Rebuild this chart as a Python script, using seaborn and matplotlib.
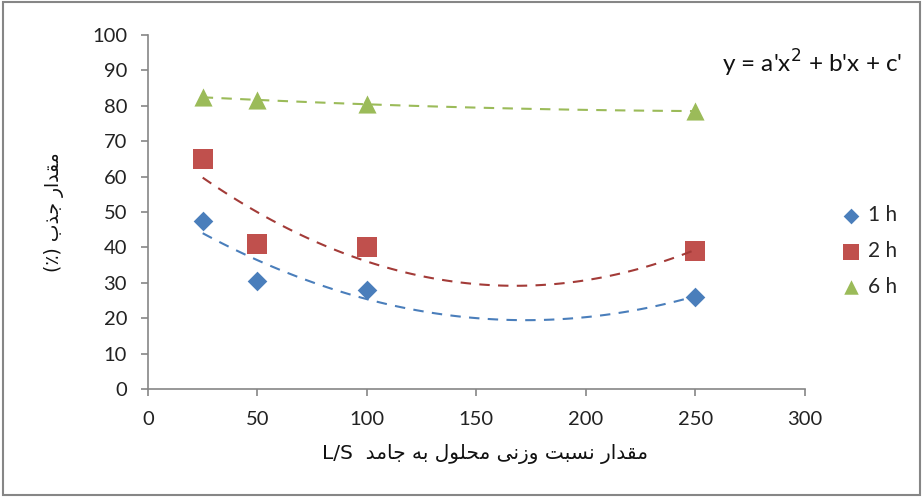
import matplotlib
matplotlib.use("Agg")
import matplotlib.pyplot as plt
import seaborn as sns
import pandas as pd

# data
ls_ratio = [25, 50, 100, 250]
uptake_1h = [47.5, 30.5, 28, 26]
uptake_2h = [65, 41, 40, 39]
uptake_6h = [82.5, 81.5, 80.5, 78.5]
series_names = ["1 h", "2 h", "6 h"]

x_label_fa = "مقدار نسبت وزنی محلول به جامد"
y_label_fa = "مقدار جذب"

# arabic presentation forms: (isolated, final, initial, medial)
FORMS = {
    "ا": ("\uFE8D", "\uFE8E", None, None),
    "ب": ("\uFE8F", "\uFE90", "\uFE91", "\uFE92"),
    "ت": ("\uFE95", "\uFE96", "\uFE97", "\uFE98"),
    "ج": ("\uFE9D", "\uFE9E", "\uFE9F", "\uFEA0"),
    "ح": ("\uFEA1", "\uFEA2", "\uFEA3", "\uFEA4"),
    "د": ("\uFEA9", "\uFEAA", None, None),
    "ذ": ("\uFEAB", "\uFEAC", None, None),
    "ر": ("\uFEAD", "\uFEAE", None, None),
    "ز": ("\uFEAF", "\uFEB0", None, None),
    "س": ("\uFEB1", "\uFEB2", "\uFEB3", "\uFEB4"),
    "ق": ("\uFED5", "\uFED6", "\uFED7", "\uFED8"),
    "ل": ("\uFEDD", "\uFEDE", "\uFEDF", "\uFEE0"),
    "م": ("\uFEE1", "\uFEE2", "\uFEE3", "\uFEE4"),
    "ن": ("\uFEE5", "\uFEE6", "\uFEE7", "\uFEE8"),
    "ه": ("\uFEE9", "\uFEEA", "\uFEEB", "\uFEEC"),
    "و": ("\uFEED", "\uFEEE", None, None),
    "ی": ("\uFBFC", "\uFBFD", "\uFBFE", "\uFBFF"),
}


def shape(text):
    out = []
    for i, ch in enumerate(text):
        if ch not in FORMS:
            out.append(ch)
            continue
        prev = text[i - 1] if i > 0 else " "
        nxt = text[i + 1] if i + 1 < len(text) else " "
        join_prev = prev in FORMS and FORMS[prev][2] is not None
        join_next = FORMS[ch][2] is not None and nxt in FORMS
        iso, fin, ini, med = FORMS[ch]
        if join_prev and join_next:
            out.append(med)
        elif join_prev:
            out.append(fin)
        elif join_next:
            out.append(ini)
        else:
            out.append(iso)
    return "".join(out)[::-1]


df = pd.DataFrame({
    "ls": ls_ratio * 3,
    "value": uptake_1h + uptake_2h + uptake_6h,
    "series": [s for s in series_names for _ in ls_ratio],
})

sns.set_style("white")
plt.rcParams["font.family"] = ["Lato", "DejaVu Sans"]

marker_colors = {"1 h": "#4A7EBB", "2 h": "#C0504D", "6 h": "#9BBB59"}
line_colors = {"1 h": "#4A7EBB", "2 h": "#A33B38", "6 h": "#9BBB59"}
markers = {"1 h": "D", "2 h": "s", "6 h": "^"}
sizes = {"1 h": 100, "2 h": 190, "6 h": 170}

fig = plt.figure(figsize=(9.23, 4.97), dpi=100)
ax = fig.add_axes([0.1603, 0.2173, 0.872 - 0.1603, 0.9296 - 0.2173])

for name in series_names:
    sub = df[df["series"] == name]
    ax.scatter(sub["ls"], sub["value"], marker=markers[name], s=sizes[name],
               color=marker_colors[name], label=name, zorder=2, linewidths=0)
    sns.regplot(data=sub, x="ls", y="value", order=2, ci=None, scatter=False,
                truncate=True, ax=ax,
                line_kws=dict(color=line_colors[name], lw=1.5, ls=(0, (5, 4)), zorder=3))

ax.set_xlim(0, 300)
ax.set_ylim(0, 100)
ax.set_xticks(range(0, 301, 50))
ax.set_yticks(range(0, 101, 10))
ax.tick_params(axis="both", labelsize=14.5, colors="#868686", labelcolor="#222222",
               direction="out", length=5, width=1.2, left=True, bottom=True)
ax.tick_params(axis="y", pad=10)
ax.tick_params(axis="x", pad=11)
for side in ["top", "right"]:
    ax.spines[side].set_visible(False)
for side in ["left", "bottom"]:
    ax.spines[side].set_color("#868686")
    ax.spines[side].set_linewidth(1.2)

ax.set_xlabel("L/S  " + shape(x_label_fa), family=["DejaVu Sans"], fontsize=14.5,
              color="#111111")
ax.xaxis.set_label_coords(0.513, -0.155)
ax.set_ylabel("(\u066A) " + shape(y_label_fa), family=["DejaVu Sans"], fontsize=13.5,
              labelpad=20, color="#111111")

fig.text(722 / 923, 1 - 63 / 497, r"y = a'x$^{2}$ + b'x + c'", fontsize=17.5,
         va="center", ha="left", color="#111111")

leg = fig.legend(loc="center left", bbox_to_anchor=(826 / 923, 1 - 251 / 497),
                 frameon=False, fontsize=15, handletextpad=0.0, labelspacing=0.75,
                 markerscale=0.8, borderaxespad=0, handlelength=1.6)

# chart border
fig.patches.append(plt.Rectangle((0.003, 0.004), 0.994, 0.992, transform=fig.transFigure,
                                 fill=False, edgecolor="#868686", linewidth=1.5))

fig.savefig("out.png", dpi=100)
